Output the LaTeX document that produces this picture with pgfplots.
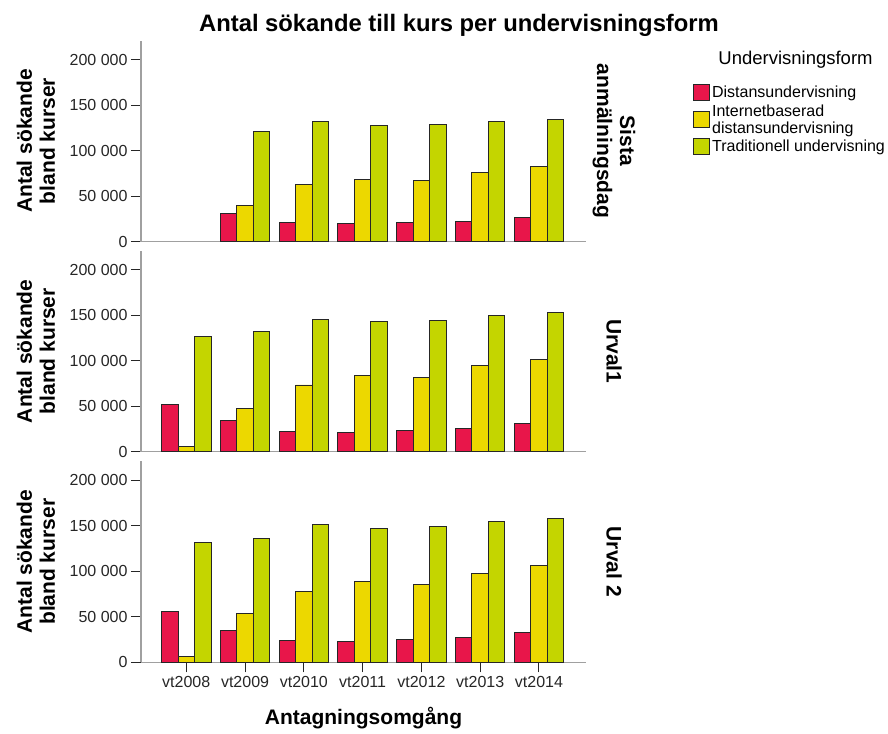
\documentclass[border=0pt]{standalone}
\usepackage{fontspec}
\setmainfont{Liberation Sans}
\usepackage{pgfplots}
\pgfplotsset{compat=1.18}
\definecolor{cred}{RGB}{232,22,74}
\definecolor{cyel}{RGB}{236,216,0}
\definecolor{cgrn}{RGB}{196,213,0}
\definecolor{axgray}{RGB}{160,160,160}
\tikzset{rlab/.style={rotate=-90, align=center, font=\bfseries\fontsize{21bp}{23bp}\selectfont}}
\pgfplotsset{
  panel/.style={
    scale only axis, width=445bp, height=201bp,
    xmin=-0.77, xmax=6.8, ymin=0, ymax=221000,
    axis lines*=left,
    axis line style={draw=axgray, line width=1.2bp},
    ybar=0pt, bar width=16.5bp,
    ytick={0,50000,100000,150000,200000},
    scaled y ticks=false,
    yticklabel style={/pgf/number format/fixed, /pgf/number format/precision=0, /pgf/number format/1000 sep={\ }, /pgf/number format/assume math mode=true},
    ticklabel style={font=\fontsize{16bp}{18bp}\selectfont, text=black!85},
    tick style={draw=black!85, line width=1bp},
    tick align=outside, major tick length=10bp,
    ylabel={Antal sökande\\bland kurser},
    ylabel style={at={(axis description cs:-0.236,0.5)}, anchor=center, rotate=0, align=center, font=\bfseries\fontsize{21bp}{23bp}\selectfont},
    clip=false,
  },
  rbar/.style={fill=cred, draw=black!85, line width=0.9bp},
  ybarst/.style={fill=cyel, draw=black!85, line width=0.9bp},
  gbar/.style={fill=cgrn, draw=black!85, line width=0.9bp},
}
\begin{document}
\begin{tikzpicture}
\useasboundingbox (0,0) rectangle (888bp,-734bp);
\node[anchor=base, font=\bfseries\fontsize{23.8bp}{26bp}\selectfont] at (459bp,-31bp) {Antal sökande till kurs per undervisningsform};
\node[font=\fontsize{18.5bp}{20bp}\selectfont] at (795.5bp,-60bp) {Undervisningsform};
% Panel 1
\begin{axis}[panel, at={(141bp,-241.5bp)}, anchor=south west, xtick=\empty,
  legend style={at={(1.2405,0.785)}, anchor=north west, draw=none, fill=none, inner sep=0pt,
    font=\fontsize{16bp}{17bp}\selectfont, cells={anchor=west, align=left}, row sep=1.5bp},
  legend image code/.code={\draw[#1] (0bp,-8bp) rectangle (16bp,8bp);}]
\addplot[rbar] coordinates {(1,31100)(2,20400)(3,19300)(4,21200)(5,22300)(6,25900)};
\addplot[ybarst] coordinates {(1,39600)(2,62200)(3,67700)(4,67400)(5,75400)(6,82400)};
\addplot[gbar] coordinates {(1,121200)(2,132200)(3,127500)(4,128600)(5,131900)(6,134100)};
\legend{Distansundervisning, Internetbaserad\\distansundervisning, Traditionell undervisning}
\node[rlab] at (rel axis cs:1.063,0.5) {Sista\\anmälningsdag};
\end{axis}
% Panel 2
\begin{axis}[panel, at={(141bp,-451.8bp)}, anchor=south west, xtick=\empty]
\addplot[rbar] coordinates {(0,52500)(1,34100)(2,22800)(3,21700)(4,23600)(5,26100)(6,30800)};
\addplot[ybarst] coordinates {(0,5900)(1,47400)(2,73500)(3,84100)(4,81900)(5,94400)(6,101800)};
\addplot[gbar] coordinates {(0,126700)(1,131800)(2,145400)(3,143600)(4,144300)(5,150200)(6,153100)};
\node[rlab] at (rel axis cs:1.063,0.5) {Urval1};
\end{axis}
% Panel 3
\begin{axis}[panel, at={(141bp,-662.3bp)}, anchor=south west,
  xtick={0,1,2,3,4,5,6}, xticklabels={vt2008,vt2009,vt2010,vt2011,vt2012,vt2013,vt2014},
  xlabel={Antagningsomgång},
  xlabel style={at={(axis description cs:0.5,-0.278)}, anchor=center, font=\bfseries\fontsize{21bp}{23bp}\selectfont}]
\addplot[rbar] coordinates {(0,56200)(1,34800)(2,24200)(3,22700)(4,24900)(5,27100)(6,32600)};
\addplot[ybarst] coordinates {(0,6200)(1,53500)(2,77400)(3,88400)(4,85900)(5,98000)(6,106800)};
\addplot[gbar] coordinates {(0,132200)(1,136600)(2,151500)(3,146800)(4,149000)(5,154500)(6,158100)};
\node[rlab] at (rel axis cs:1.063,0.5) {Urval 2};
\end{axis}
\end{tikzpicture}
\end{document}
